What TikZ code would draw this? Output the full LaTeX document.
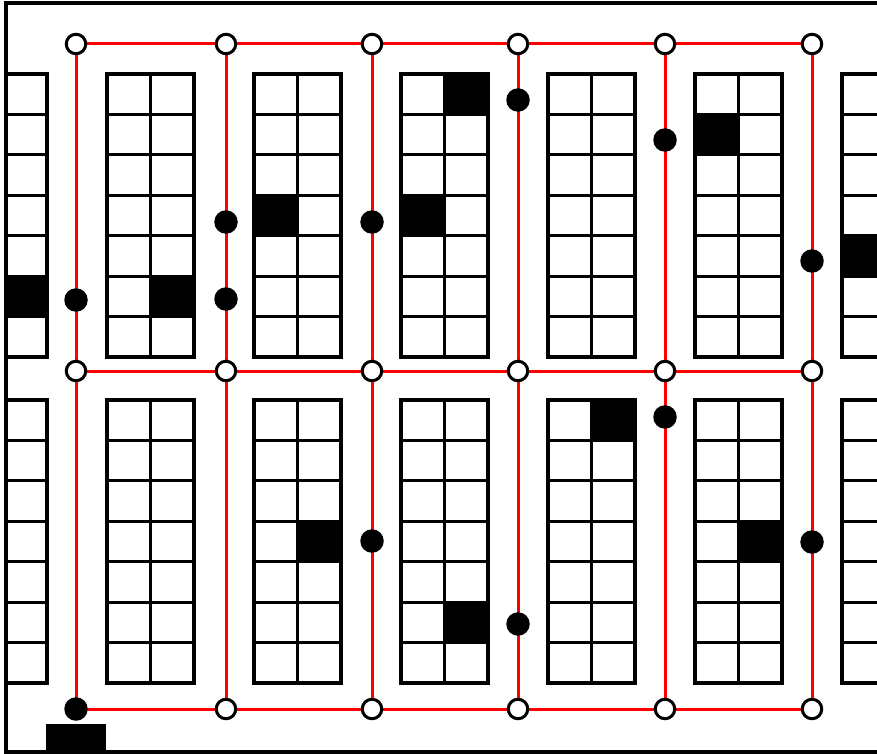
\documentclass[tikz,border=0pt]{standalone}
\pgfdeclarelayer{bg}
\pgfsetlayers{bg,main}
\newcommand\myshelf[2]{%
  \draw[shelfline] (#1,#2) rectangle ++(87,283);
  \draw[shelfline] (#1+43.5,#2) -- ++(0,283);
  \foreach \r in {1,...,6} {\draw[shelfline] (#1,#2+\r*40.43) -- ++(87,0);}
}
\newcommand\mycell[4]{%
  \fill[black] (#1+#3*43.5,#2+#4*40.43) rectangle ++(43.5,40.43);
}
\begin{document}
\begin{tikzpicture}[x=1pt,y=-1pt,
  shelfline/.style={line width=3.2pt,black},
  redline/.style={line width=3pt,red},
  framestyle/.style={line width=3.2pt,black},
  waypoint/.style={circle,draw=black,fill=white,line width=3pt,minimum size=19.5pt,inner sep=0pt},
  pickdot/.style={circle,fill=black,minimum size=23.5pt,inner sep=0pt},
  depot/.style={fill=black}]
\useasboundingbox (0,0) rectangle (877,754);
% frame
\draw[framestyle] (880,3) -- (6,3) -- (6,752) -- (880,752);
% shelves
\begin{scope}
\clip (6,0) rectangle (877,754);
\foreach \k in {-1,...,5} {
  \myshelf{107+147*\k}{74}
  \myshelf{107+147*\k}{400}
}
% filled cells, top block
\mycell{-40}{74}{1}{5}
\mycell{107}{74}{1}{5}
\mycell{254}{74}{0}{3}
\mycell{401}{74}{1}{0}
\mycell{401}{74}{0}{3}
\mycell{695}{74}{0}{1}
\mycell{842}{74}{0}{4}
% filled cells, bottom block
\mycell{254}{400}{1}{3}
\mycell{401}{400}{1}{5}
\mycell{548}{400}{1}{0}
\mycell{695}{400}{1}{3}
\end{scope}
% depot
\fill[depot] (45.7,724) rectangle (106,752);
% intersections
\foreach \n/\x in {1/76,2/226,3/372,4/518,5/665,6/812} {
  \node[waypoint] (t\n) at (\x,44) {};
  \node[waypoint] (m\n) at (\x,371) {};
}
\node[pickdot] (b1) at (76,709) {};
\foreach \n/\x in {2/226,3/372,4/518,5/665,6/812} {
  \node[waypoint] (b\n) at (\x,709) {};
}
% pick dots
\node[pickdot] (d1) at (76,300) {};
\node[pickdot] (d2) at (226,222) {};
\node[pickdot] (d3) at (226,299) {};
\node[pickdot] (d4) at (372,222) {};
\node[pickdot] (d5) at (518,100) {};
\node[pickdot] (d6) at (665,140) {};
\node[pickdot] (d7) at (812,261) {};
\node[pickdot] (d8) at (665,417) {};
\node[pickdot] (d9) at (372,541) {};
\node[pickdot] (d10) at (518,624) {};
\node[pickdot] (d11) at (812,542) {};
% red route lines
\begin{pgfonlayer}{bg}
\foreach \r in {t,m,b} {
  \draw[redline] (\r1.center) -- (\r6.center);
}
\foreach \n in {1,...,6} {
  \draw[redline] (t\n.center) -- (b\n.center);
}
\end{pgfonlayer}
\end{tikzpicture}
\end{document}
